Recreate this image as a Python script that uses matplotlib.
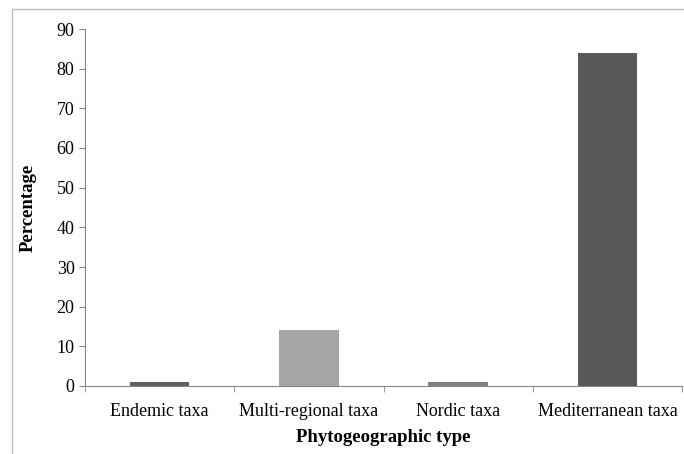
import matplotlib.pyplot as plt
from matplotlib.patches import Rectangle

categories = ['Endemic taxa', 'Multi-regional taxa', 'Nordic taxa', 'Mediterranean taxa']
values = [1, 14, 1, 84]
colors = ['#5f5f5f', '#a6a6a6', '#808080', '#595959']

plt.rcParams['font.family'] = ['Liberation Serif', 'DejaVu Serif']

fig = plt.figure(figsize=(6.84, 4.54), dpi=100)
ax = fig.add_axes([85/684, 68/454, 597/684, 357/454])

# outer chart frame
fig.patches.append(Rectangle((12/684, -0.1), 2.0, (454 - 9)/454 + 0.1, transform=fig.transFigure,
                             fill=False, edgecolor='#c0c0c0', linewidth=1))

x = list(range(len(categories)))
ax.bar(x, values, width=0.4, color=colors)

ax.set_xlim(-0.5, len(categories) - 0.5)
ax.set_ylim(0, 90)
ax.set_yticks(range(0, 91, 10))
ax.tick_params(axis='y', labelsize=13, length=4.5, color='#868686', pad=3)
ax.set_xticks(x)
ax.set_xticklabels(categories, fontsize=13)
ax.set_xticks([i - 0.5 for i in range(len(categories) + 1)], minor=True)
ax.tick_params(axis='x', which='major', length=0, pad=12)
ax.tick_params(axis='x', which='minor', length=4.5, color='#868686')

for s in ['top', 'right']:
    ax.spines[s].set_visible(False)
for s in ['left', 'bottom']:
    ax.spines[s].set_color('#868686')

ax.set_ylabel('Percentage', fontsize=13.5, fontweight='bold', labelpad=14)
ax.set_xlabel('Phytogeographic type', fontsize=13.5, fontweight='bold', labelpad=7)

fig.savefig('out.png', dpi=100)
